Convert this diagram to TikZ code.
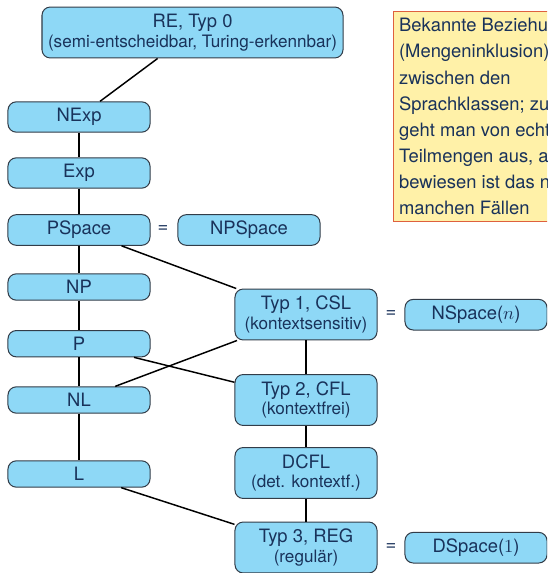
\documentclass[tikz,border=0pt]{standalone}
\usepackage{fontspec}
\setmainfont{TeX Gyre Heros}
\usepackage{xcolor}
\usetikzlibrary{positioning}
\definecolor{klassenblau}{RGB}{142,216,246}
\definecolor{randgrau}{RGB}{50,60,72}
\definecolor{textblau}{RGB}{25,50,90}
\definecolor{notizgelb}{RGB}{255,241,168}
\definecolor{notizrand}{RGB}{222,96,62}
\newcommand{\zusatz}[1]{{\fontsize{9.3}{11}\selectfont #1}}

\begin{document}
\begin{tikzpicture}[x=0.5435pt, y=-0.5435pt,
  klasse/.style={draw=randgrau, fill=klassenblau, line width=0.55pt, rounded corners=4.5pt,
    minimum width=77.2pt, inner xsep=1pt, inner ysep=3.5pt, align=center, text=textblau},
  zweizeilig/.style={klasse, minimum height=27.7pt},
  gleich/.style={text=textblau, inner sep=0pt},
  verbindung/.style={line width=0.8pt},
  hinweis/.style={draw=notizrand, fill=notizgelb, line width=0.6pt, anchor=north west,
    minimum height=114.1pt, inner xsep=3pt, align=left, text=textblau,
    font=\fontsize{10}{14.15}\selectfont}]
\useasboundingbox (0,0) rectangle (547,573);
\clip (0,0) rectangle (547,573);
% Linke Spalte: Komplexitaetsklassen
\node[zweizeilig, minimum width=163.6pt] (re) at (192.5,32.5) {RE, Typ 0\\[-1.3pt]\zusatz{(semi-entscheidbar, Turing-erkennbar)}};
\node[klasse] (nexp) at (79,117) {NExp};
\node[klasse] (exp) at (79,173) {Exp};
\node[klasse] (pspace) at (79,230) {PSpace};
\node[klasse] (np) at (79,287) {NP};
\node[klasse] (p) at (79,343.7) {P};
\node[klasse] (nl) at (79,400) {NL};
\node[klasse] (l) at (79,474) {L};
\node[gleich] (gleichA) at (163,229.5) {=};
\node[klasse] (npspace) at (249,230) {NPSpace};
% Rechte Spalte: Chomsky-Hierarchie
\node[zweizeilig] (csl) at (306,314.5) {Typ 1, CSL\\[-1.3pt]\zusatz{(kontextsensitiv)}};
\node[zweizeilig] (cfl) at (306,400) {Typ 2, CFL\\[-1.3pt]\zusatz{(kontextfrei)}};
\node[zweizeilig] (dcfl) at (306,473) {DCFL\\[-1.3pt]\zusatz{(det. kontextf.)}};
\node[zweizeilig] (reg) at (306,547.5) {Typ 3, REG\\[-1.3pt]\zusatz{(regulär)}};
\node[gleich] (gleichB) at (391,314.5) {=};
\node[klasse] (nspace) at (476,314.7) {NSpace($n$)};
\node[gleich] (gleichC) at (391,547.5) {=};
\node[klasse] (dspace) at (476,547.7) {DSpace($1$)};
% Inklusionen
\draw[verbindung] (re) -- (nexp);
\draw[verbindung] (nexp) -- (exp);
\draw[verbindung] (exp) -- (pspace);
\draw[verbindung] (pspace) -- (np);
\draw[verbindung] (np) -- (p);
\draw[verbindung] (p) -- (nl);
\draw[verbindung] (nl) -- (l);
\draw[verbindung] (pspace) -- (csl);
\draw[verbindung] (nl) -- (csl);
\draw[verbindung] (p) -- (cfl);
\draw[verbindung] (csl) -- (cfl);
\draw[verbindung] (cfl) -- (dcfl);
\draw[verbindung] (dcfl) -- (reg);
\draw[verbindung] (l) -- (reg);
% Hinweis
\node[hinweis] (notiz) at (393,11) {Bekannte Beziehungen\\(Mengeninklusion)\\zwischen den\\Sprachklassen; zum Teil\\geht man von echten\\Teilmengen aus, aber\\bewiesen ist das nur in\\manchen Fällen};
\end{tikzpicture}
\end{document}
